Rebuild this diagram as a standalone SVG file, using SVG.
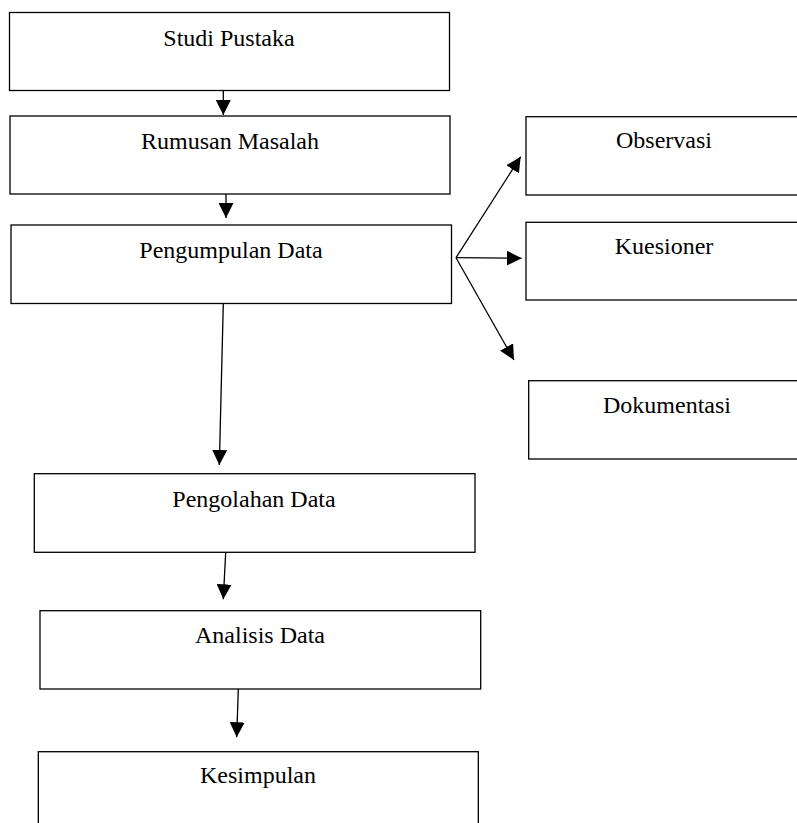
<svg xmlns="http://www.w3.org/2000/svg" width="797" height="823" viewBox="0 0 797 823">
<style>
.box{fill:#fff;stroke:#000;stroke-width:1.3}
.lbl{font-family:"Liberation Serif","Times New Roman",serif;font-size:24px;fill:#000;text-anchor:middle}
.con{stroke:#000;stroke-width:1.3;fill:none;marker-end:url(#ah)}
</style>
<defs>
<marker id="ah" viewBox="0 0 15 15" refX="15" refY="7.5" markerWidth="15" markerHeight="15" markerUnits="userSpaceOnUse" orient="auto">
<path d="M0,0 L15,7.5 L0,15 z" fill="#000"/>
</marker>
</defs>
<rect width="797" height="823" fill="#fff"/>
<g id="studi-pustaka"><rect class="box" x="9.5" y="12.5" width="440" height="78"/><text class="lbl" x="229" y="46">Studi Pustaka</text></g>
<g id="rumusan-masalah"><rect class="box" x="10" y="116" width="440" height="78"/><text class="lbl" x="230" y="149">Rumusan Masalah</text></g>
<g id="pengumpulan-data"><rect class="box" x="11" y="225" width="440.5" height="78.5"/><text class="lbl" x="231" y="258">Pengumpulan Data</text></g>
<g id="observasi"><rect class="box" x="526" y="116.7" width="280" height="78.3"/><text class="lbl" x="664" y="148.3">Observasi</text></g>
<g id="kuesioner"><rect class="box" x="526" y="222.3" width="280" height="77.7"/><text class="lbl" x="664" y="254">Kuesioner</text></g>
<g id="dokumentasi"><rect class="box" x="528.7" y="380.7" width="280" height="78.3"/><text class="lbl" x="667" y="413.3">Dokumentasi</text></g>
<g id="pengolahan-data"><rect class="box" x="34.3" y="473.7" width="440.7" height="78.6"/><text class="lbl" x="254" y="506.7">Pengolahan Data</text></g>
<g id="analisis-data"><rect class="box" x="40" y="610.7" width="440.7" height="78.3"/><text class="lbl" x="260" y="643.3">Analisis Data</text></g>
<g id="kesimpulan"><rect class="box" x="38.3" y="751.7" width="440" height="90"/><text class="lbl" x="258" y="783.3">Kesimpulan</text></g>
<g id="connectors">
<line class="con" x1="223.3" y1="90.7" x2="223.3" y2="115"/>
<line class="con" x1="226" y1="194" x2="226" y2="218"/>
<line class="con" x1="223.3" y1="303.7" x2="219.3" y2="465"/>
<line class="con" x1="225.7" y1="552.3" x2="223.3" y2="599.3"/>
<line class="con" x1="238.3" y1="689" x2="236.7" y2="737.3"/>
<line class="con" x1="456" y1="257.7" x2="520.7" y2="156.7"/>
<line class="con" x1="456" y1="257.7" x2="521.7" y2="258.3"/>
<line class="con" x1="456" y1="257.7" x2="514" y2="360"/>
</g>
</svg>
